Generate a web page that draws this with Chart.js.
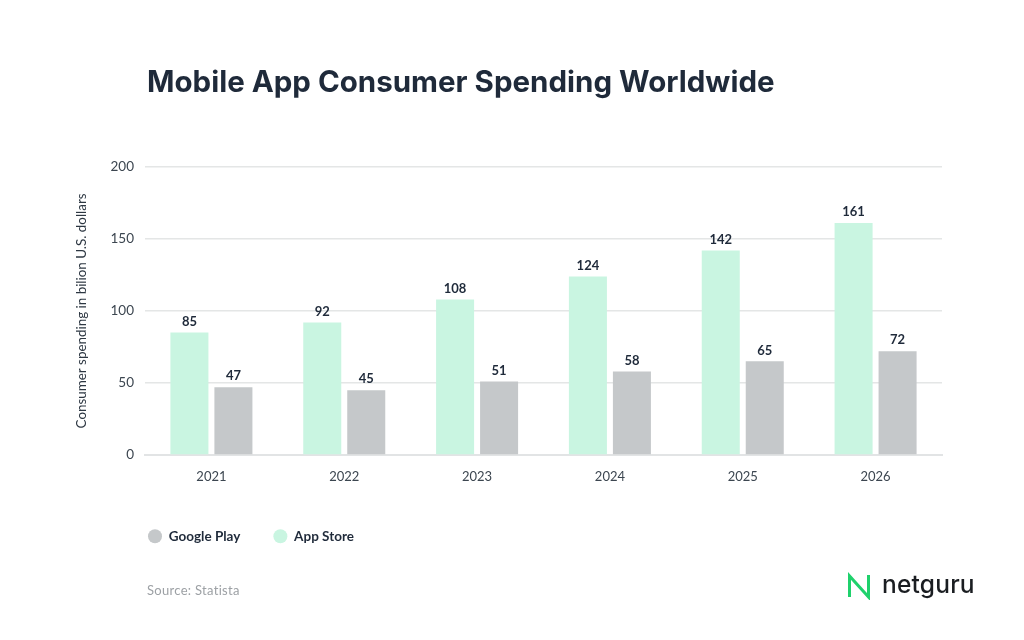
<!DOCTYPE html>
<html>
<head>
<meta charset="utf-8">
<script src="https://cdn.jsdelivr.net/npm/chart.js@4"></script>
<style>
html,body{margin:0;padding:0;background:#fff;width:1024px;height:640px;overflow:hidden}
#wrap{position:relative;width:1024px;height:640px}
canvas{position:absolute;left:0;top:0}
#source{position:absolute;left:147px;top:582px;font:400 13px Lato,sans-serif;color:#9da1a5;letter-spacing:.3px}
#logo{position:absolute;left:846px;top:572px;width:26px;height:28px}
#brand{position:absolute;left:882px;top:569px;font:500 24.5px Inter,sans-serif;color:#1a1d21;letter-spacing:.2px}
</style>
</head>
<body>
<div id="wrap">
<canvas id="c" width="1024" height="640"></canvas>
<div id="source">Source: Statista</div>
<svg id="logo" viewBox="0 0 26 28"><path d="M3.5 25V4L22.5 25V3" fill="none" stroke="#1fd16c" stroke-width="3" stroke-linejoin="miter"/></svg>
<div id="brand">netguru</div>
</div>
<script>
const categories = ['2021','2022','2023','2024','2025','2026'];
const appStore = [85,92,108,124,142,161];
const googlePlay = [47,45,51,58,65,72];
const yTicks = [0,50,100,150,200];
const titleText = 'Mobile App Consumer Spending Worldwide';
const yTitle = 'Consumer spending in bilion U.S. dollars';

const fontFamily = 'Lato, sans-serif';

const valueLabels = {
  id:'valueLabels',
  afterDatasetsDraw(chart){
    const ctx = chart.ctx;
    ctx.save();
    ctx.font = '700 13px ' + fontFamily;
    ctx.fillStyle = '#1f2a3a';
    ctx.textAlign = 'center';
    ctx.textBaseline = 'middle';
    chart.data.datasets.forEach((ds,i)=>{
      chart.getDatasetMeta(i).data.forEach((bar,j)=>{
        ctx.fillText(String(ds.data[j]), bar.x, bar.y - 11);
      });
    });
    ctx.restore();
  }
};
const alignHeader = {
  id:'alignHeader',
  beforeDraw(chart){
    chart.titleBlock.left = 147;
    chart.legend.left = 115;
  }
};

new Chart(document.getElementById('c'),{
  type:'bar',
  data:{
    labels:categories,
    datasets:[
      {label:'App Store',data:appStore,backgroundColor:'#c9f5e1'},
      {label:'Google Play',data:googlePlay,backgroundColor:'#c5c8ca'}
    ]
  },
  plugins:[valueLabels,alignHeader],
  options:{
    responsive:false,
    animation:false,
    devicePixelRatio:1,
    layout:{padding:{left:70,right:82,top:0,bottom:87}},
    datasets:{bar:{categoryPercentage:0.6625,barPercentage:0.864}},
    plugins:{
      tooltip:{enabled:false},
      title:{display:true,text:titleText,align:'start',color:'#1f2a3a',
        font:{family:'Inter, sans-serif',size:29.5,weight:'700',lineHeight:1.2},
        padding:{top:65.5,bottom:66}},
      legend:{display:true,position:'bottom',align:'start',reverse:true,
        labels:{usePointStyle:true,pointStyle:'circle',pointStyleWidth:14,boxHeight:10,
          color:'#1f2a3a',padding:33,font:{family:fontFamily,size:13.5,weight:'700'}}}
    },
    scales:{
      x:{
        afterFit(s){s.height=41.5;},
        grid:{display:false,drawTicks:false},
        border:{display:true,color:'#e2e4e5',width:2},
        ticks:{color:'#3c4650',padding:14,font:{family:fontFamily,size:13}}
      },
      y:{
        min:0,max:200,
        afterFit(s){s.width=75;},
        afterBuildTicks(s){s.ticks=yTicks.map(v=>({value:v}));},
        grid:{color:'#e4e6e6',lineWidth:1.5,drawTicks:false},
        border:{display:false},
        ticks:{color:'#3c4650',padding:11,font:{family:fontFamily,size:13.5}},
        title:{display:true,text:yTitle,color:'#2d3742',
          font:{family:fontFamily,size:13.4},padding:{top:4,bottom:0}}
      }
    }
  }
});
</script>
</body>
</html>
